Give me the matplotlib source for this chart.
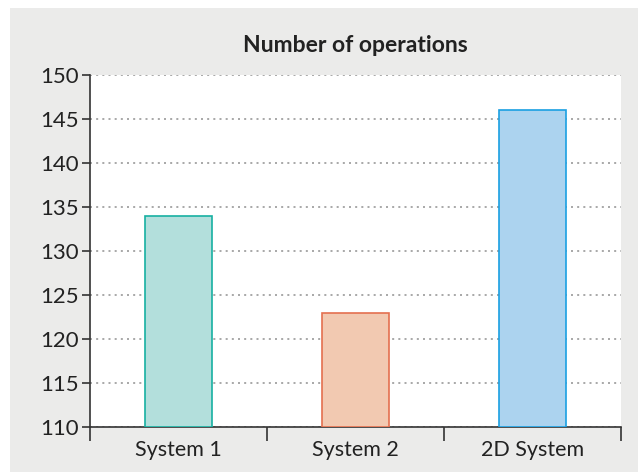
import numpy as np
import matplotlib.pyplot as plt
from matplotlib.patches import Rectangle

# data
categories = ['System 1', 'System 2', '2D System']
values = [134, 123, 146]
fills = ['#b3dfdc', '#f2c9b1', '#acd3ef']
edges = ['#17b0a2', '#e4704f', '#1aa0e2']
yticks = np.arange(110, 151, 5)

plt.rcParams['font.family'] = ['Lato', 'DejaVu Sans']

fig = plt.figure(figsize=(6.38, 4.72), dpi=100, facecolor='white')
# gray panel behind the chart
fig.patches.append(Rectangle((10 / 638, 0), 1, 1 - 8 / 472,
                             transform=fig.transFigure, facecolor='#ebebea',
                             edgecolor='none', zorder=-1))

ax = fig.add_axes([90 / 638, 1 - 427 / 472, (621 - 90) / 638, (427 - 75) / 472])
ax.set_facecolor('white')

x = np.arange(len(categories))
ax.bar(x, np.array(values) - 110, bottom=110, width=0.38,
       color=fills, edgecolor=edges, linewidth=1.2, zorder=3)

ax.set_xlim(-0.5, len(categories) - 0.5)
ax.set_ylim(110, 150)
ax.set_yticks(yticks)
ax.set_yticklabels([str(v) for v in yticks])
ax.set_xticks(x)
ax.set_xticklabels(categories)
ax.set_xticks(np.arange(len(categories) + 1) - 0.5, minor=True)

ax.tick_params(axis='y', direction='out', length=6, width=1.2, color='#333333',
               labelsize=16, labelcolor='#222222', pad=2)
ax.tick_params(axis='x', which='major', length=0, labelsize=15.5,
               labelcolor='#222222', pad=9)
ax.tick_params(axis='x', which='minor', direction='out', length=10,
               width=1.2, color='#333333')

ax.grid(axis='y', linestyle=(0, (1.2, 2.5)), color='#999999', linewidth=1.2, zorder=0)
ax.set_axisbelow(True)

for side in ['top', 'right']:
    ax.spines[side].set_visible(False)
for side in ['left', 'bottom']:
    ax.spines[side].set_color('#333333')
    ax.spines[side].set_linewidth(1.2)

fig.text((90 + 621) / 2 / 638, 1 - 45 / 472, 'Number of operations',
         ha='center', va='center', fontsize=16.5, fontweight='bold',
         color='#222222')

fig.savefig('out.png', dpi=100, facecolor=fig.get_facecolor())
